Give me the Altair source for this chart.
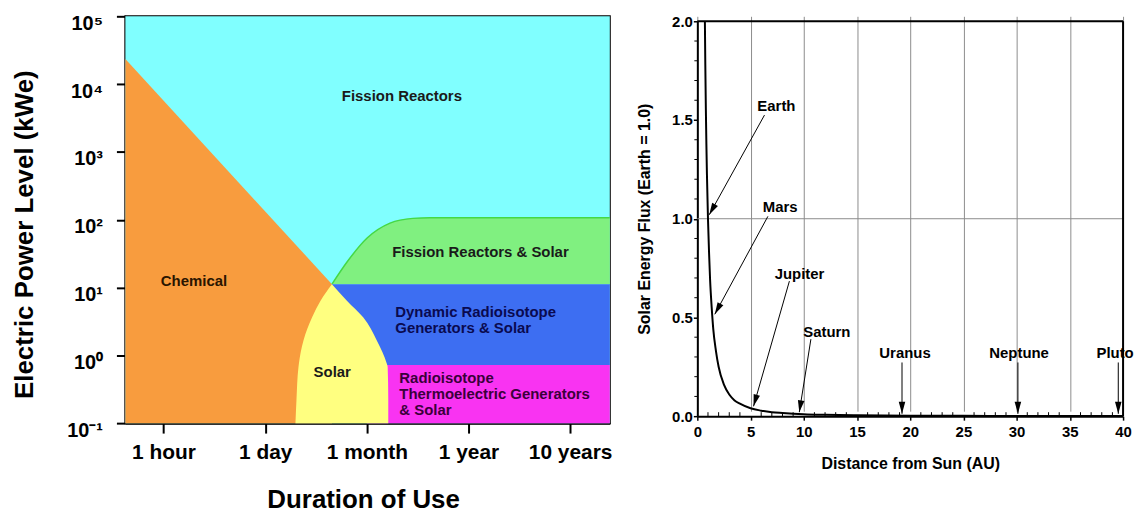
import json
import math
import altair as alt
import pandas as pd

FONT = "Liberation Sans"

# ---------------- left panel: power vs duration ----------------
duration_ticks = [1, 2, 3, 4, 5]
duration_labels = ["1 hour", "1 day", "1 month", "1 year", "10 years"]
power_ticks = [0.1, 1, 10, 100, 1000, 10000, 100000]
power_labels = ["10⁻¹", "10⁰", "10¹", "10²", "10³", "10⁴", "10⁵"]
x_lo, x_hi = 0.625, 5.39
p_lo, p_hi = 0.1, 100000

# Chemical region upper boundary
chem_x = [0.625, 2.657]
chem_p = [23400, 11.2]

# Solar region (left and right boundaries by power level)
solar_p = [11.2, 6.4, 3.64, 1.66, 0.76, 0.68, 0.22, 0.1]
solar_left = [2.657, 2.545, 2.462, 2.377, 2.332, 2.328, 2.308, 2.298]
solar_right = [2.657, 2.804, 2.964, 3.098, 3.196, 3.205, 3.211, 3.211]

# Fission Reactors & Solar upper boundary
frs_x = [2.657, 2.807, 3.003, 3.228, 3.453, 3.62, 5.39]
frs_p = [11.2, 24.0, 53.7, 89.1, 104.7, 107.0, 107.0]

# Dynamic radioisotope generators & solar, RTG & solar
drg_x = [2.657, 5.39]
drg_p = [0.72, 11.2]
rtg_x = [3.0, 5.39]
rtg_p = [0.1, 0.72]

center_text = ["Fission Reactors", "Fission Reactors & Solar", "Chemical", "Solar"]
center_x = [3.345, 4.118, 1.30, 2.66]
center_p = [6760, 33.5, 12.6, 0.575]
center_col = ["#1a1a1a", "#1a1a1a", "#2a1500", "#1a1a1a"]

left_text = ["Dynamic Radioisotope", "Generators & Solar", "Radioisotope",
             "Thermoelectric Generators", "& Solar"]
left_x = [3.28, 3.28, 3.32, 3.32, 3.32]
left_p = [4.42, 2.51, 0.457, 0.269, 0.155]
left_col = ["#0a0a50", "#0a0a50", "#3a003a", "#3a003a", "#3a003a"]

CYAN = "#80FFFF"
ORANGE = "#F89C3E"
YELLOW = "#FFFF80"
GREEN = "#80F080"
BLUE = "#3D6EF2"
MAGENTA = "#F933F2"

W1, H1 = 487, 409

xs = alt.Scale(domain=[x_lo, x_hi], nice=False, zero=False)
ys = alt.Scale(type="log", domain=[p_lo, p_hi], nice=False)

x_labels_expr = json.dumps(duration_labels, ensure_ascii=False) + "[datum.value - 1]"
y_labels_expr = json.dumps(power_labels, ensure_ascii=False) + "[round(log(datum.value) / LN10) + 1]"

xax = alt.Axis(values=duration_ticks, labelExpr=x_labels_expr, title="Duration of Use",
               grid=False, labelFlush=False, labelOverlap=False,
               labelFont=FONT, labelFontSize=21, labelFontWeight="bold", labelColor="black",
               labelPadding=9, tickSize=10, tickWidth=2, tickColor="black",
               domainColor="black", domainWidth=2,
               titleFont=FONT, titleFontSize=26, titleFontWeight="bold", titleColor="black",
               titleX=239, titleY=85, titleAlign="center", titleBaseline="alphabetic")
yax = alt.Axis(values=power_ticks, labelExpr=y_labels_expr, title="Electric Power Level (kWe)",
               grid=False, labelFlush=False, labelOverlap=False,
               labelFont=FONT, labelFontSize=20, labelFontWeight="bold", labelColor="black",
               labelPadding=14, labelOffset=7, labelBaseline="middle",
               tickSize=9, tickWidth=2, tickColor="black",
               domainColor="black", domainWidth=2,
               titleFont=FONT, titleFontSize=26, titleFontWeight="bold", titleColor="black",
               titleX=-101, titleY=219, titleAngle=-90, titleAlign="center", titleBaseline="middle")

bg = alt.Chart(pd.DataFrame({"x0": [x_lo], "x1": [x_hi], "p0": [p_lo], "p1": [p_hi]})).mark_rect(
    color=CYAN).encode(
    x=alt.X("x0:Q", scale=xs, axis=xax), x2="x1:Q",
    y=alt.Y("p0:Q", scale=ys, axis=yax), y2="p1:Q")

chem = alt.Chart(pd.DataFrame({"x0": chem_x, "p1": chem_p, "p0": [p_lo] * len(chem_x)})).mark_area(
    color=ORANGE).encode(
    x=alt.X("x0:Q", scale=xs), y=alt.Y("p1:Q", scale=ys), y2="p0:Q")

green = alt.Chart(pd.DataFrame({"x0": frs_x, "p1": frs_p, "p0": [frs_p[0]] * len(frs_x)}))
green_area = green.mark_area(color=GREEN, interpolate="monotone").encode(
    x=alt.X("x0:Q", scale=xs), y=alt.Y("p1:Q", scale=ys), y2="p0:Q")
green_edge = green.mark_line(color="#45D845", strokeWidth=1.5, interpolate="monotone").encode(
    x=alt.X("x0:Q", scale=xs), y=alt.Y("p1:Q", scale=ys))

blue = alt.Chart(pd.DataFrame({"x0": [drg_x[0]], "x1": [drg_x[1]], "p0": [drg_p[0]], "p1": [drg_p[1]]})).mark_rect(
    color=BLUE).encode(x=alt.X("x0:Q", scale=xs), x2="x1:Q", y=alt.Y("p0:Q", scale=ys), y2="p1:Q")
mag = alt.Chart(pd.DataFrame({"x0": [rtg_x[0]], "x1": [rtg_x[1]], "p0": [rtg_p[0]], "p1": [rtg_p[1]]})).mark_rect(
    color=MAGENTA).encode(x=alt.X("x0:Q", scale=xs), x2="x1:Q", y=alt.Y("p0:Q", scale=ys), y2="p1:Q")

solar = alt.Chart(pd.DataFrame({"p0": solar_p, "x0": solar_left, "x1": solar_right})).mark_area(
    color=YELLOW, orient="horizontal", interpolate="monotone").encode(
    y=alt.Y("p0:Q", scale=ys), x=alt.X("x0:Q", scale=xs), x2="x1:Q")

ctext = alt.Chart(pd.DataFrame({"x0": center_x, "p0": center_p, "t": center_text, "c": center_col})).mark_text(
    font=FONT, fontSize=15, fontWeight="bold", baseline="middle", align="center").encode(
    x=alt.X("x0:Q", scale=xs), y=alt.Y("p0:Q", scale=ys), text="t:N", color=alt.Color("c:N", scale=None))
ltext = alt.Chart(pd.DataFrame({"x0": left_x, "p0": left_p, "t": left_text, "c": left_col})).mark_text(
    font=FONT, fontSize=15, fontWeight="bold", baseline="middle", align="left").encode(
    x=alt.X("x0:Q", scale=xs), y=alt.Y("p0:Q", scale=ys), text="t:N", color=alt.Color("c:N", scale=None))

left = alt.layer(bg, chem, green_area, green_edge, blue, mag, solar, ctext, ltext).properties(
    width=W1, height=H1, view=alt.ViewBackground(stroke="black", strokeWidth=2))

# ---------------- right panel: solar flux vs distance ----------------
dist = [0.71, 0.75, 0.8, 0.85, 0.9, 1.0, 1.1, 1.2, 1.35, 1.5, 1.75, 2.0, 2.5, 3.0, 3.5, 4.0,
        5.0, 6.0, 7.0, 8.0, 10.0, 12.0, 15.0, 20.0, 25.0, 30.0, 35.0, 40.0]
flux = [2.0, 1.78, 1.56, 1.38, 1.23, 1.0, 0.83, 0.69, 0.55, 0.44, 0.33, 0.25, 0.16, 0.11, 0.08,
        0.063, 0.04, 0.028, 0.02, 0.016, 0.01, 0.007, 0.0045, 0.0025, 0.0016, 0.0011, 0.0008, 0.0006]

x2_ticks = [0, 5, 10, 15, 20, 25, 30, 35, 40]
y2_ticks = [0.0, 0.5, 1.0, 1.5, 2.0]
x2_minor = [v for v in range(1, 40) if v % 5 != 0]
y2_minor = [round(0.1 * i, 1) for i in range(1, 20) if i % 5 != 0]
ref_level = [1.0]

planet = ["Earth", "Mars", "Jupiter", "Saturn", "Uranus", "Neptune", "Pluto"]
label_x = [7.43, 7.78, 9.60, 12.17, 19.51, 30.23, 39.25]
label_y = [1.571, 1.059, 0.721, 0.427, 0.320, 0.320, 0.320]
arrow_x0 = [6.31, 6.63, 8.65, 10.67, 19.23, 30.12, 39.55]
arrow_y0 = [1.525, 1.012, 0.684, 0.390, 0.272, 0.272, 0.272]
arrow_x1 = [1.12, 1.64, 5.28, 9.58, 19.23, 30.12, 39.55]
arrow_y1 = [1.020, 0.516, 0.050, 0.020, 0.012, 0.012, 0.012]

W2, H2 = 428, 397
TOP2 = 5                      # right plot sits a little lower than the left one
GH2 = H2 + TOP2
x2_dom, y2_dom = [0, 40], [0, 2]
pxx = W2 / (x2_dom[1] - x2_dom[0])
pxy = H2 / (y2_dom[1] - y2_dom[0])
HEAD = 12.0
head_x, head_y, head_ang = [], [], []
for a, b, c, d in zip(arrow_x0, arrow_y0, arrow_x1, arrow_y1):
    dx = (c - a) * pxx
    dy = -(d - b) * pxy
    ln = math.hypot(dx, dy)
    ux, uy = dx / ln, dy / ln
    head_ang.append(math.degrees(math.atan2(-ux, uy)) % 360)
    head_x.append(c - (HEAD / 2) * ux / pxx)
    head_y.append(d + (HEAD / 2) * uy / pxy)

xs2 = alt.Scale(domain=x2_dom, nice=False, zero=False)
ys2 = alt.Scale(domain=y2_dom, nice=False, zero=False, range=[GH2, TOP2])

xax2 = alt.Axis(values=x2_ticks, title="Distance from Sun (AU)", grid=True, gridColor="#8c8c8c",
                gridWidth=1, labelFlush=False, labelOverlap=False,
                labelFont=FONT, labelFontSize=15, labelFontWeight="bold", labelColor="black",
                labelPadding=4, tickSize=4, tickWidth=1.5, tickColor="black",
                domainColor="black", domainWidth=2,
                titleFont=FONT, titleFontSize=16, titleFontWeight="bold", titleColor="black",
                titleY=53, titleBaseline="alphabetic")
yax2 = alt.Axis(values=y2_ticks, format=".1f", title="Solar Energy Flux (Earth = 1.0)", grid=False,
                labelFlush=False, labelOverlap=False,
                labelFont=FONT, labelFontSize=15, labelFontWeight="bold", labelColor="black",
                labelPadding=1, tickSize=4, tickWidth=1.5, tickColor="black",
                domainColor="black", domainWidth=2,
                titleFont=FONT, titleFontSize=16, titleFontWeight="bold", titleColor="black",
                titleX=-53, titleY=TOP2 + H2 / 2, titleAngle=-90, titleAlign="center",
                titleBaseline="middle")

curve = alt.Chart(pd.DataFrame({"r": dist, "f": flux})).mark_line(
    color="black", strokeWidth=2, interpolate="monotone", clip=True).encode(
    x=alt.X("r:Q", scale=xs2, axis=xax2), y=alt.Y("f:Q", scale=ys2, axis=yax2))

hline = alt.Chart(pd.DataFrame({"f": ref_level})).mark_rule(color="#8c8c8c", strokeWidth=1).encode(
    y=alt.Y("f:Q", scale=ys2))

xminor = alt.Chart(pd.DataFrame({"r": x2_minor})).mark_rule(color="black", strokeWidth=1).encode(
    x=alt.X("r:Q", scale=xs2), y=alt.value(GH2), y2=alt.value(GH2 - 4))
yminor = alt.Chart(pd.DataFrame({"f": y2_minor})).mark_rule(color="black", strokeWidth=1).encode(
    y=alt.Y("f:Q", scale=ys2), x=alt.value(-3), x2=alt.value(0))

border_top = alt.Chart().mark_rule(color="black", strokeWidth=2).encode(
    x=alt.value(0), x2=alt.value(W2), y=alt.value(TOP2))
border_right = alt.Chart().mark_rule(color="black", strokeWidth=2).encode(
    x=alt.value(W2), y=alt.value(TOP2), y2=alt.value(GH2))

arrows = alt.Chart(pd.DataFrame({"r": arrow_x0, "f": arrow_y0, "r2": arrow_x1, "f2": arrow_y1})).mark_rule(
    color="black", strokeWidth=1).encode(
    x=alt.X("r:Q", scale=xs2), y=alt.Y("f:Q", scale=ys2), x2="r2:Q", y2="f2:Q")

heads = alt.Chart(pd.DataFrame({"r": head_x, "f": head_y, "a": head_ang})).mark_point(
    shape="M-0.55,-1L0.55,-1L0,1Z", filled=True, color="black", opacity=1, size=HEAD * HEAD,
    strokeWidth=0).encode(
    x=alt.X("r:Q", scale=xs2), y=alt.Y("f:Q", scale=ys2), angle=alt.Angle("a:Q", scale=None))

plabels = alt.Chart(pd.DataFrame({"r": label_x, "f": label_y, "t": planet})).mark_text(
    font=FONT, fontSize=15, fontWeight="bold", color="black", baseline="middle", align="center").encode(
    x=alt.X("r:Q", scale=xs2), y=alt.Y("f:Q", scale=ys2), text="t:N")

right = alt.layer(hline, curve, xminor, yminor, border_top, border_right, arrows, heads,
                  plabels).properties(
    width=W2, height=GH2, view=alt.ViewBackground(stroke="transparent"))

chart = alt.hconcat(left, right, spacing=22).properties(
    padding={"left": 2, "top": 3, "right": 0, "bottom": 0},
    background="white",
)

chart.save("out.html", embed_options={"renderer": "svg", "actions": False})
